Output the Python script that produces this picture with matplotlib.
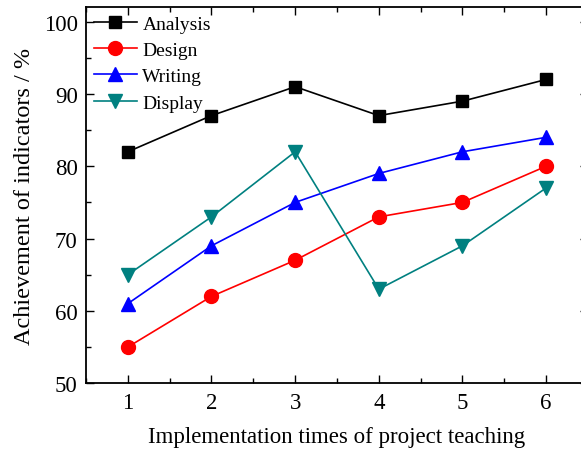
import matplotlib
matplotlib.use("Agg")
import matplotlib.pyplot as plt
from matplotlib.ticker import MultipleLocator

plt.rcParams['font.family'] = ['Liberation Serif', 'DejaVu Serif']

times = [1, 2, 3, 4, 5, 6]
analysis = [82, 87, 91, 87, 89, 92]
design = [55, 62, 67, 73, 75, 80]
writing = [61, 69, 75, 79, 82, 84]
display = [65, 73, 82, 63, 69, 77]
labels = ["Analysis", "Design", "Writing", "Display"]

fig = plt.figure(figsize=(5.81, 4.52), dpi=100)
ax = fig.add_axes([0.148, 0.150, 0.864, 0.832])

ax.plot(times, analysis, color='black', marker='s', markersize=9, lw=1.2, label=labels[0])
ax.plot(times, design, color='red', marker='o', markersize=10, lw=1.2, label=labels[1])
ax.plot(times, writing, color='blue', marker='^', markersize=10, lw=1.2, label=labels[2])
ax.plot(times, display, color='#008080', marker='v', markersize=10, lw=1.2, label=labels[3])

ax.set_xlim(0.5, 6.5)
ax.set_ylim(50, 102)
ax.xaxis.set_major_locator(MultipleLocator(1))
ax.xaxis.set_minor_locator(MultipleLocator(0.5))
ax.yaxis.set_major_locator(MultipleLocator(10))
ax.yaxis.set_minor_locator(MultipleLocator(5))
ax.tick_params(which='both', direction='in', top=True, right=True, labelsize=16.5, width=1)
ax.tick_params(which='major', length=6, pad=6)
ax.tick_params(which='minor', length=3.5)
for s in ax.spines.values():
    s.set_linewidth(1.3)

ax.set_xlabel("Implementation times of project teaching", fontsize=16.5, labelpad=10)
ax.set_ylabel("Achievement of indicators / %", fontsize=17.5, labelpad=6)

ax.legend(loc='upper left', frameon=False, fontsize=14, handlelength=2.2,
          handletextpad=0.3, labelspacing=0.45, borderaxespad=0.3, borderpad=0.1)

fig.savefig("out.png", dpi=100)
